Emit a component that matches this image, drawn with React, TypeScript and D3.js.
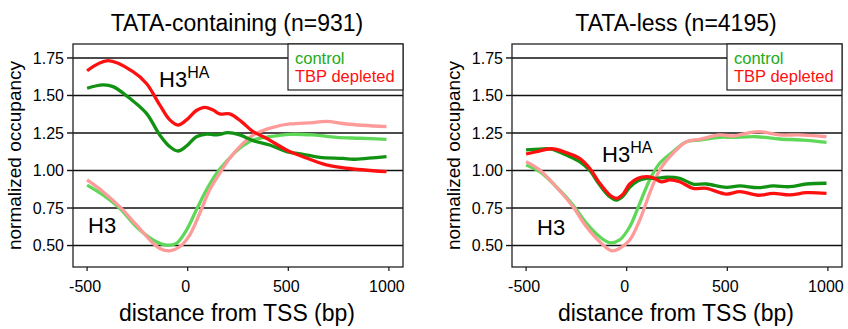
import React from "react";
import * as d3 from "d3";

const yTicks = [0.5, 0.75, 1.0, 1.25, 1.5, 1.75];
const yTickLabels = ["0.50", "0.75", "1.00", "1.25", "1.50", "1.75"];
const xTicks = [-500, 0, 500, 1000];
const xTickLabels = ["-500", "0", "500", "1000"];
const legendLabels = ["control", "TBP depleted"];
const panelTitles = ["TATA-containing (n=931)", "TATA-less (n=4195)"];

// TATA-containing panel
const tataHAControl: [number, number][] = [
  [-500, 1.548], [-421, 1.57], [-371, 1.559], [-288, 1.481], [-205, 1.381], [-139, 1.237],
  [-89, 1.159], [-48, 1.13], [-6, 1.163], [43, 1.225], [93, 1.243], [143, 1.237],
  [200, 1.252], [258, 1.237], [325, 1.199], [408, 1.17], [491, 1.126], [573, 1.108],
  [656, 1.088], [772, 1.081], [821, 1.075], [900, 1.082], [988, 1.092],
];
const tataHATbp: [number, number][] = [
  [-500, 1.665], [-396, 1.732], [-272, 1.659], [-205, 1.58], [-139, 1.437], [-89, 1.337],
  [-48, 1.303], [-6, 1.337], [43, 1.4], [85, 1.421], [126, 1.403], [159, 1.377],
  [209, 1.377], [267, 1.326], [325, 1.259], [391, 1.215], [491, 1.137], [573, 1.092],
  [689, 1.037], [789, 1.015], [988, 0.992],
];
const tataH3Control: [number, number][] = [
  [-500, 0.903], [-421, 0.837], [-338, 0.748], [-255, 0.625], [-172, 0.537], [-106, 0.503],
  [-56, 0.515], [-6, 0.603], [43, 0.737], [93, 0.87], [143, 0.981], [192, 1.059],
  [258, 1.148], [325, 1.203], [408, 1.225], [507, 1.241], [623, 1.237], [739, 1.221],
  [855, 1.215], [988, 1.208],
];
const tataH3Tbp: [number, number][] = [
  [-500, 0.937], [-421, 0.859], [-338, 0.759], [-255, 0.637], [-172, 0.515], [-139, 0.481],
  [-89, 0.465], [-40, 0.492], [10, 0.57], [60, 0.715], [109, 0.87], [159, 0.981],
  [209, 1.081], [275, 1.181], [341, 1.248], [424, 1.288], [507, 1.31], [623, 1.319],
  [689, 1.328], [789, 1.31], [988, 1.292],
];

// TATA-less panel
const lessHAControl: [number, number][] = [
  [-500, 1.137], [-432, 1.143], [-374, 1.143], [-300, 1.103], [-234, 1.059], [-184, 1.0],
  [-134, 0.903], [-84, 0.825], [-51, 0.803], [-18, 0.83], [15, 0.888], [56, 0.932],
  [98, 0.948], [147, 0.948], [197, 0.955], [263, 0.948], [330, 0.91], [396, 0.91],
  [495, 0.888], [562, 0.897], [653, 0.886], [727, 0.897], [810, 0.892], [893, 0.91], [993, 0.915],
];
const lessHATbp: [number, number][] = [
  [-500, 1.11], [-449, 1.125], [-374, 1.145], [-300, 1.119], [-234, 1.081], [-184, 1.015],
  [-134, 0.915], [-84, 0.837], [-51, 0.815], [-18, 0.843], [15, 0.91], [56, 0.948],
  [98, 0.959], [131, 0.952], [172, 0.925], [214, 0.937], [263, 0.925], [330, 0.881],
  [396, 0.881], [495, 0.843], [562, 0.859], [653, 0.835], [727, 0.848], [810, 0.837],
  [893, 0.852], [993, 0.848],
];
const lessH3Control: [number, number][] = [
  [-500, 1.037], [-432, 0.992], [-350, 0.892], [-267, 0.77], [-200, 0.648], [-134, 0.559],
  [-84, 0.519], [-35, 0.537], [15, 0.625], [65, 0.781], [114, 0.937], [164, 1.048],
  [230, 1.125], [297, 1.192], [363, 1.203], [462, 1.221], [528, 1.221], [645, 1.225],
  [760, 1.21], [876, 1.203], [993, 1.188],
];
const lessH3Tbp: [number, number][] = [
  [-500, 1.059], [-432, 1.003], [-350, 0.89], [-267, 0.759], [-200, 0.625], [-134, 0.525],
  [-76, 0.465], [-35, 0.481], [15, 0.537], [65, 0.67], [114, 0.848], [164, 1.003],
  [230, 1.114], [297, 1.192], [363, 1.208], [462, 1.237], [528, 1.23], [653, 1.259],
  [760, 1.237], [860, 1.237], [993, 1.225],
];

const FONT = "'Liberation Sans', Arial, sans-serif";
const C_DARKGREEN = "#129212";
const C_RED = "#ff1010";
const C_LIGHTGREEN = "#5fd85a";
const C_PINK = "#ff9a9a";
const C_LEGEND_GREEN = "#22aa22";

type Series = { data: [number, number][]; color: string };

function Panel(props: {
  left: number;
  title: string;
  series: Series[];
  haPos: [number, number];
  h3Pos: [number, number];
}) {
  const { left, title, series, haPos, h3Pos } = props;
  const top = 44;
  const width = 330;
  const height = 223;
  const x = d3.scaleLinear().domain([-570, 1070]).range([left, left + width]);
  const y = d3.scaleLinear().domain([0.357, 1.843]).range([top + height, top]);
  const line = d3
    .line<[number, number]>()
    .x((d) => x(d[0]))
    .y((d) => y(d[1]))
    .curve(d3.curveCatmullRom.alpha(0.5));
  const cx = left + width / 2;
  const legendX = left + width - 115;
  return (
    <g>
      <text x={cx - 1} y={31} textAnchor="middle" fontSize={23} fontFamily={FONT} fill="#000">
        {title}
      </text>
      {yTicks.map((t, i) => (
        <g key={t}>
          <line x1={left} x2={left + width} y1={y(t)} y2={y(t)} stroke="#111" strokeWidth={1.4} />
          <line x1={left - 6} x2={left} y1={y(t)} y2={y(t)} stroke="#111" strokeWidth={1.4} />
          <text x={left - 9} y={y(t)} dy="0.36em" textAnchor="end" fontSize={16} fontFamily={FONT} fill="#000">
            {yTickLabels[i]}
          </text>
        </g>
      ))}
      <rect x={left} y={top} width={width} height={height} fill="none" stroke="#222" strokeWidth={1.3} />
      {xTicks.map((t, i) => (
        <g key={t}>
          <line x1={x(t)} x2={x(t)} y1={top + height} y2={top + height + 4} stroke="#111" strokeWidth={1.2} />
          <text x={x(t) - 2} y={292} textAnchor="middle" fontSize={16} fontFamily={FONT} fill="#000">
            {xTickLabels[i]}
          </text>
        </g>
      ))}
      <text x={cx - 1} y={321} textAnchor="middle" fontSize={23} fontFamily={FONT} fill="#000">
        distance from TSS (bp)
      </text>
      <text
        transform={`translate(${left - 52},${top + height / 2}) rotate(-90)`}
        textAnchor="middle"
        fontSize={19}
        fontFamily={FONT}
        fill="#000"
      >
        normalized occupancy
      </text>
      <rect x={legendX} y={top} width={115} height={46} fill="#fff" stroke="#222" strokeWidth={1.2} />
      <text x={legendX + 7} y={top + 20} fontSize={16.5} fontFamily={FONT} fill={C_LEGEND_GREEN}>
        {legendLabels[0]}
      </text>
      <text x={legendX + 7} y={top + 38} fontSize={16.5} fontFamily={FONT} fill={C_RED}>
        {legendLabels[1]}
      </text>
      {series.map((s, i) => (
        <path key={i} d={line(s.data) || ""} fill="none" stroke={s.color} strokeWidth={3.3} strokeLinejoin="round" />
      ))}
      <text x={haPos[0]} y={haPos[1]} fontSize={22} fontFamily={FONT} fill="#000">
        H3
        <tspan fontSize={16} dy={-9}>HA</tspan>
      </text>
      <text x={h3Pos[0]} y={h3Pos[1]} fontSize={22} fontFamily={FONT} fill="#000">
        H3
      </text>
    </g>
  );
}

export default function App() {
  return (
    <svg
      width={848}
      height={329}
      style={{ position: "absolute", left: 0, top: 0, background: "#fff" }}
    >
      <rect x={0} y={0} width={848} height={329} fill="#fff" />
      <Panel
        left={73}
        title={panelTitles[0]}
        series={[
          { data: tataH3Control, color: C_LIGHTGREEN },
          { data: tataH3Tbp, color: C_PINK },
          { data: tataHAControl, color: C_DARKGREEN },
          { data: tataHATbp, color: C_RED },
        ]}
        haPos={[159, 87]}
        h3Pos={[88, 233]}
      />
      <Panel
        left={512}
        title={panelTitles[1]}
        series={[
          { data: lessH3Control, color: C_LIGHTGREEN },
          { data: lessH3Tbp, color: C_PINK },
          { data: lessHAControl, color: C_DARKGREEN },
          { data: lessHATbp, color: C_RED },
        ]}
        haPos={[602, 162]}
        h3Pos={[537, 235]}
      />
    </svg>
  );
}
